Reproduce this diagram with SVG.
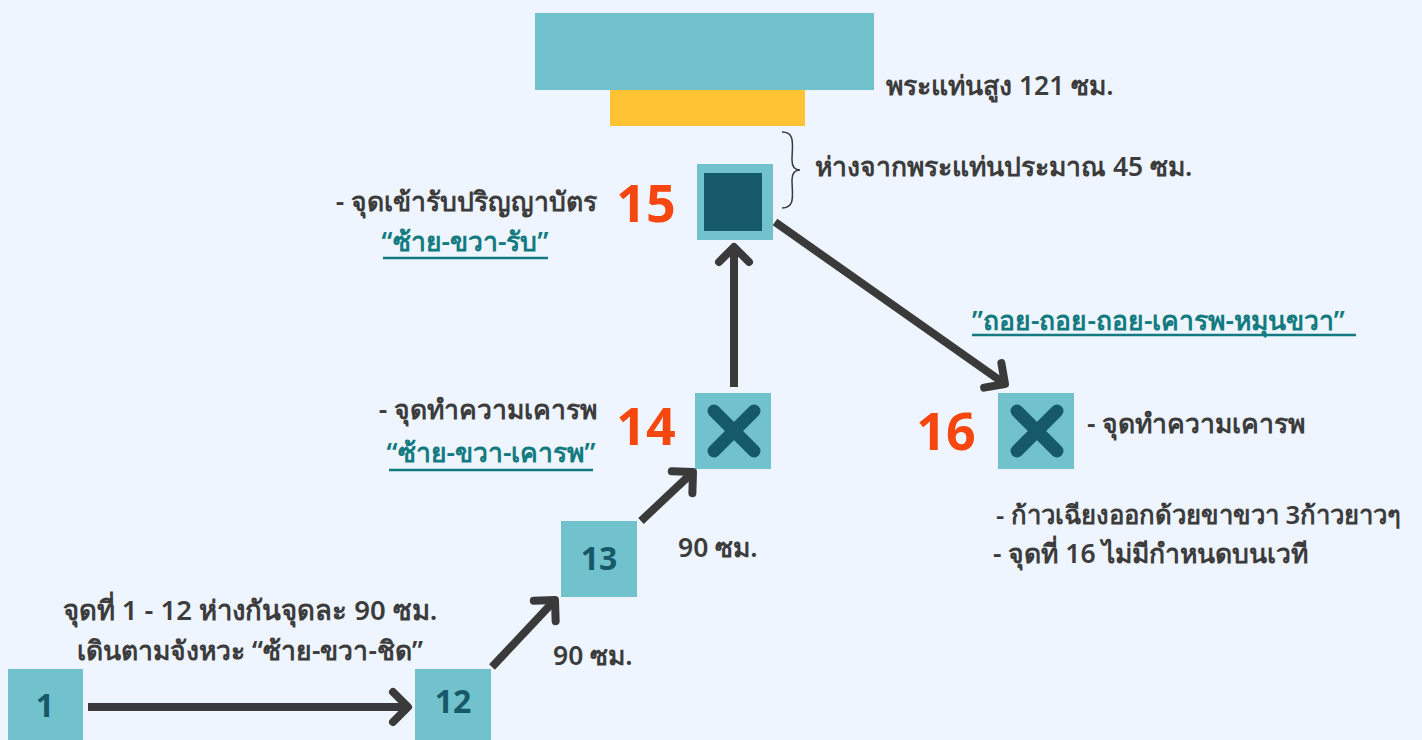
<svg xmlns="http://www.w3.org/2000/svg" width="1422" height="740" viewBox="0 0 1422 740">
<defs>
<style>
.t{font-family:"Noto Sans","DejaVu Sans",sans-serif;font-size:26.5px;fill:#3c3c3c;font-weight:600}
.u{font-family:"Noto Sans","DejaVu Sans",sans-serif;font-size:26.5px;fill:#137b80;font-weight:600}
.num{font-family:"Noto Sans","DejaVu Sans",sans-serif;font-size:52px;fill:#f5470f;font-weight:700}
.lbl{font-family:"Noto Sans","DejaVu Sans",sans-serif;font-size:32px;fill:#165a6a;font-weight:700;text-anchor:middle}
.box{fill:#71c2cc}
.x{stroke:#165a6a;stroke-width:13;stroke-linecap:round}
.ul{stroke:#137b80;stroke-width:2.5}
.c{stroke:#3a3a3a;stroke-width:8;fill:none}
</style>
<marker id="ah" markerUnits="userSpaceOnUse" markerWidth="40" markerHeight="40" viewBox="-20 -20 40 40" refX="0" refY="0" orient="auto">
<path d="M-15,-15 L0,0 L-15,15" fill="none" stroke="#3a3a3a" stroke-width="8" stroke-linecap="round" stroke-linejoin="round"/>
</marker>
</defs>
<rect width="1422" height="740" fill="#eef5ff"/>
<g id="stage">
<rect x="535" y="13" width="339" height="77" fill="#71c2cc"/>
<rect x="610" y="90" width="195" height="36" fill="#ffc333"/>
<text class="t" x="886" y="95">พระแท่นสูง 121 ซม.</text>
</g>
<g id="brace">
<path d="M782,132 C796,132 792,146 792,160 C792,166 794,170 800,170 C794,170 792,174 792,180 C792,194 796,208 782,208" fill="none" stroke="#3a3a3a" stroke-width="1.5"/>
<text class="t" x="815" y="176">ห่างจากพระแท่นประมาณ 45 ซม.</text>
</g>
<g id="connectors">
<line class="c" x1="88" y1="707" x2="408" y2="707" marker-end="url(#ah)"/>
<line class="c" x1="492" y1="667" x2="555" y2="600" marker-end="url(#ah)"/>
<line class="c" x1="641" y1="521" x2="693" y2="472" marker-end="url(#ah)"/>
<line class="c" x1="734" y1="387" x2="734" y2="247" marker-end="url(#ah)"/>
<line class="c" x1="775" y1="222" x2="1005" y2="384" marker-end="url(#ah)"/>
</g>
<g id="node15">
<rect class="box" x="697" y="164" width="76" height="76"/>
<rect x="704" y="173" width="58" height="58" fill="#165a6a"/>
<text class="num" x="646" y="222" text-anchor="middle">15</text>
<text class="t" x="597" y="211" text-anchor="end">- จุดเข้ารับปริญญาบัตร</text>
<text class="u" x="465" y="251" text-anchor="middle">“ซ้าย-ขวา-รับ”</text>
<line class="ul" x1="383" y1="258" x2="548" y2="258"/>
</g>
<g id="node14">
<rect class="box" x="695" y="393" width="76" height="76"/>
<line class="x" x1="714" y1="411" x2="754" y2="451"/>
<line class="x" x1="754" y1="411" x2="714" y2="451"/>
<text class="num" x="646" y="445" text-anchor="middle">14</text>
<text class="t" x="597" y="419" text-anchor="end">- จุดทำความเคารพ</text>
<text class="u" x="491" y="462" text-anchor="middle">“ซ้าย-ขวา-เคารพ”</text>
<line class="ul" x1="389" y1="470" x2="593" y2="470"/>
</g>
<g id="node16">
<rect class="box" x="998" y="393" width="76" height="76"/>
<line class="x" x1="1017" y1="411" x2="1057" y2="451"/>
<line class="x" x1="1057" y1="411" x2="1017" y2="451"/>
<text class="num" x="946" y="450" text-anchor="middle">16</text>
<text class="t" x="1087" y="433">- จุดทำความเคารพ</text>
<text class="u" x="972" y="330">”ถอย-ถอย-ถอย-เคารพ-หมุนขวา”</text>
<line class="ul" x1="972" y1="335" x2="1356" y2="335"/>
<text class="t" x="996" y="524" style="font-size:25.7px">- ก้าวเฉียงออกด้วยขาขวา 3ก้าวยาวๆ</text>
<text class="t" x="993" y="563">- จุดที่ 16 ไม่มีกำหนดบนเวที</text>
</g>
<g id="node13">
<rect class="box" x="561" y="521" width="76" height="76"/>
<text class="lbl" x="599" y="570">13</text>
<text class="t" x="678" y="557">90 ซม.</text>
</g>
<g id="node12">
<rect class="box" x="415" y="669" width="76" height="76"/>
<text class="lbl" x="453" y="713">12</text>
<text class="t" x="553" y="665">90 ซม.</text>
</g>
<g id="node1">
<rect class="box" x="8" y="669" width="75" height="76"/>
<text class="lbl" x="45" y="717">1</text>
<text class="t" x="250" y="620" text-anchor="middle" style="font-size:27.5px">จุดที่ 1 - 12 ห่างกันจุดละ 90 ซม.</text>
<text class="t" x="250" y="660" text-anchor="middle" style="font-size:26.5px">เดินตามจังหวะ “ซ้าย-ขวา-ชิด”</text>
</g>
</svg>
